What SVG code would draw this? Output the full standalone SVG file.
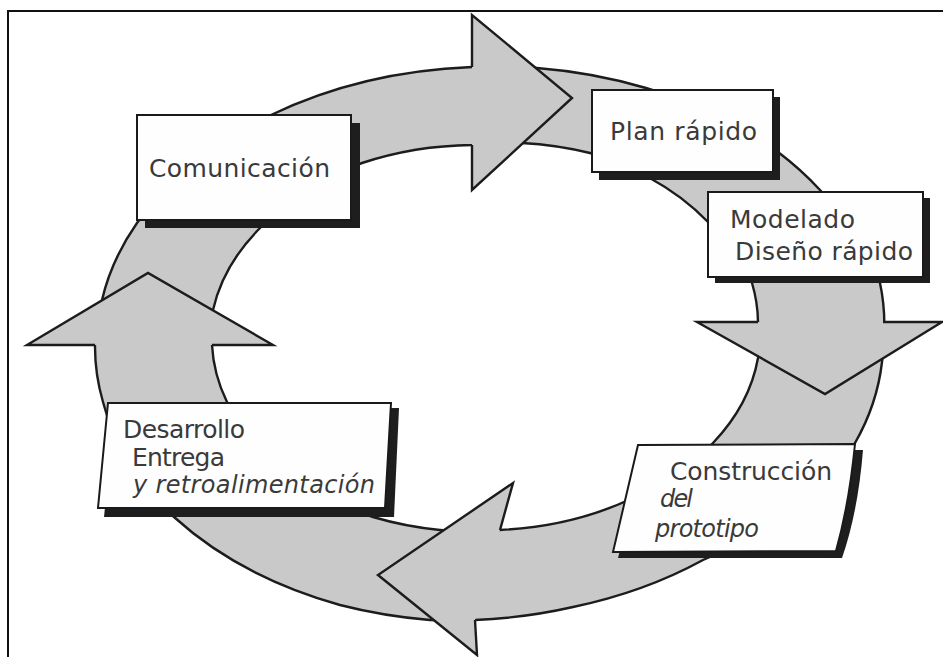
<svg xmlns="http://www.w3.org/2000/svg" width="943" height="657" viewBox="0 0 943 657">
  <style>
    .frame { fill: none; stroke: #111; stroke-width: 2; }
    .band { fill: #c9c9c9; stroke: #1c1c1c; stroke-width: 2.4; fill-rule: evenodd; stroke-linejoin: round; }
    .head { fill: #c9c9c9; stroke: #1c1c1c; stroke-width: 2.4; stroke-linejoin: miter; }
    .box { fill: #fefefe; stroke: #1a1a1a; stroke-width: 2; }
    .shadow { fill: #1e1e1e; stroke: none; }
    .lbl { font-family: "DejaVu Sans", "Liberation Sans", sans-serif; font-size: 25px; fill: #3a3a3a; }
    .it { font-style: italic; font-size: 24px; }
  </style>

  <rect width="943" height="657" fill="#ffffff"/>

  <!-- page frame: top and left rules -->
  <path class="frame" d="M 8,657 L 8,11 L 943,11"/>

  <!-- cycle band with its four arrowheads -->
  <g id="connectors">
    <path class="band" d="
      M 95,345
      A 395 277 0 0 1 102,300
      A 395 277 0 0 1 137,223
      A 395 277 0 0 1 271,115
      A 395 277 0 0 1 472,67
      A 395 277 0 0 1 537,68
      A 395 277 0 0 1 646,88
      A 395 277 0 0 1 778,152
      A 395 277 0 0 1 820,190
      A 395 277 0 0 1 880,283
      A 395 277 0 0 1 884,335
      A 395 277 0 0 1 882,362
      A 395 277 0 0 1 855,443
      A 395 277 0 0 1 703,560
      A 395 277 0 0 1 573,607
      A 395 277 0 0 1 475,620
      A 395 277 0 0 1 430,620
      A 395 277 0 0 1 340,605
      A 395 277 0 0 1 174,517
      A 395 277 0 0 1 103,402
      A 395 277 0 0 1 95,345 Z
      M 212,345
      A 273 195 0 0 1 213,310
      A 273 195 0 0 1 260,228
      A 273 195 0 0 1 362,163
      A 273 195 0 0 1 472,145
      A 273 195 0 0 1 522,143
      A 273 195 0 0 1 590,153
      A 273 195 0 0 1 648,177
      A 273 195 0 0 1 708,222
      A 273 195 0 0 1 752,283
      A 273 195 0 0 1 758,322
      A 273 195 0 0 1 758,358
      A 273 195 0 0 1 713,443
      A 273 195 0 0 1 633,498
      A 273 195 0 0 1 500,530
      A 273 195 0 0 1 440,530
      A 273 195 0 0 1 373,517
      A 273 195 0 0 1 227,402
      A 273 195 0 0 1 212,345 Z"/>
    <!-- heads: open paths so the base stays unstroked where the band joins -->
    <path id="head-top" class="head" d="M 472,145 L 472,190 L 572,98 L 472,15 L 472,67"/>
    <path id="head-right" class="head" d="M 758,322 L 697,322 L 825,394 L 942,322 L 883,322"/>
    <path id="head-bottom" class="head" d="M 500,530 L 513,483 L 378,575 L 477,655 L 475,620"/>
    <path id="head-left" class="head" d="M 95,345 L 27,345 L 148,273 L 273,345 L 212,345"/>
  </g>

  <g id="comunicacion">
    <rect class="shadow" x="145" y="123" width="215" height="105"/>
    <rect class="box" x="137" y="115" width="214" height="105"/>
    <text class="lbl" x="149" y="177" textLength="181" lengthAdjust="spacing">Comunicación</text>
  </g>

  <g id="plan-rapido">
    <rect class="shadow" x="599" y="97" width="181" height="83"/>
    <rect class="box" x="592" y="90" width="181" height="82"/>
    <text class="lbl" x="610" y="140" textLength="147" lengthAdjust="spacing">Plan rápido</text>
  </g>

  <g id="modelado">
    <rect class="shadow" x="715" y="198" width="215" height="85"/>
    <rect class="box" x="708" y="192" width="215" height="85"/>
    <text class="lbl" x="730" y="228" textLength="125" lengthAdjust="spacing">Modelado</text>
    <text class="lbl" x="735" y="260" textLength="178" lengthAdjust="spacing">Diseño rápido</text>
  </g>

  <g id="construccion">
    <path class="shadow" d="M 645,450 L 863,450 Q 858,512 842,558 L 618,558 Z"/>
    <path class="box" d="M 638,445 L 855,444 Q 849,505 836,551 L 613,552 Z"/>
    <text class="lbl" x="670" y="480" textLength="162" lengthAdjust="spacing">Construcción</text>
    <text class="lbl it" x="660" y="507" textLength="33" lengthAdjust="spacing">del</text>
    <text class="lbl it" x="655" y="537" textLength="104" lengthAdjust="spacing">prototipo</text>
  </g>

  <g id="desarrollo">
    <path class="shadow" d="M 115,410 L 399,408 L 394,517 L 104,517 Z"/>
    <path class="box" d="M 108,403 L 391,403 L 385,508 L 98,508 Z"/>
    <text class="lbl" x="123" y="438" textLength="122" lengthAdjust="spacing">Desarrollo</text>
    <text class="lbl" x="132" y="466" textLength="93" lengthAdjust="spacing">Entrega</text>
    <text class="lbl it" x="133" y="493" textLength="242" lengthAdjust="spacing">y retroalimentación</text>
  </g>
</svg>
